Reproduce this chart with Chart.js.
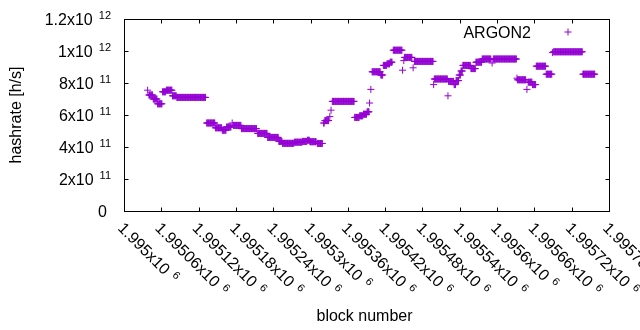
<!DOCTYPE html>
<html>
<head>
<meta charset="utf-8">
<script src="https://cdn.jsdelivr.net/npm/chart.js@4/dist/chart.umd.min.js"></script>
<style>
html,body{margin:0;padding:0;background:#fff;}
canvas{display:block;}
</style>
</head>
<body>
<canvas id="c" width="640" height="330"></canvas>
<script>
// ---- data (block offset from 1995000, run end, hashrate in units of 1e11) ----
const blockBase = 1995000;
const runStart = [38,40,47,54,62,68,78,85,133,147,158,165,174,176,189,215,231,249,255,274,287,295,299,311,321,323,331,333,335,371,379,385,391,395,397,399,413,417,423,428,433,448,450,451,465,467,498,499,521,522,531,534,539,542,545,558,566,576,592,594,632,633,648,650,657,663,679,689,691,738];
const runEnd   = [38,46,53,61,67,77,84,131,146,157,164,172,174,188,213,230,248,254,273,286,294,298,309,319,322,329,331,333,370,378,384,390,394,395,397,412,416,422,427,431,447,448,450,463,465,497,498,520,521,530,533,538,541,544,557,565,575,590,592,631,632,646,648,656,662,678,688,689,737,757];
const runValue = [7.55,7.25,7.0,6.7,7.45,7.55,7.2,7.1,5.5,5.2,5.05,5.25,5.5,5.35,5.15,4.85,4.6,4.35,4.23,4.3,4.35,4.42,4.33,4.22,5.5,5.65,5.9,6.3,6.85,5.85,5.95,6.05,6.2,6.75,7.6,8.7,8.5,9.1,9.2,9.3,10.05,8.8,9.4,9.6,8.95,9.35,7.9,8.25,7.2,8.1,7.9,8.15,8.5,8.75,9.1,8.9,9.3,9.5,9.25,9.5,8.3,8.2,7.6,8.05,7.9,9.05,8.55,9.9,9.95,8.55];
const valueUnit = 1e11;

const xTickValues = [1995000,1995060,1995120,1995180,1995240,1995300,1995360,1995420,1995480,1995540,1995600,1995660,1995720,1995780];
const xTickBase = ["1.995x10","1.99506x10","1.99512x10","1.99518x10","1.99524x10","1.9953x10","1.99536x10","1.99542x10","1.99548x10","1.99554x10","1.9956x10","1.99566x10","1.99572x10","1.99578x10"];
const xTickExp = ["6","6","6","6","6","6","6","6","6","6","6","6","6","6"];
const yTickValues = [0,2e11,4e11,6e11,8e11,1e12,1.2e12];
const yTickBase = ["0","2x10","4x10","6x10","8x10","1x10","1.2x10"];
const yTickExp = ["","11","11","11","11","12","12"];
const seriesName = "ARGON2";

// expand step runs to one point per block
const points = [];
for (let i = 0; i < runStart.length; i++) {
  for (let b = runStart[i]; b <= runEnd[i]; b++) {
    points.push({x: blockBase + b, y: runValue[i] * valueUnit});
  }
}

const COLOR = '#9400d3';
const FONT = '"Liberation Sans", Arial, sans-serif';
const MAIN = 16, SUP = 11;

function drawSup(ctx, base, exp, x, y) {
  ctx.font = MAIN + 'px ' + FONT;
  ctx.fillText(base, x, y);
  if (exp) {
    const w = ctx.measureText(base).width;
    ctx.font = SUP + 'px ' + FONT;
    ctx.fillText(exp, x + w + 6, y - 5.7);
  }
}
function supWidth(ctx, base, exp) {
  ctx.font = MAIN + 'px ' + FONT;
  let w = ctx.measureText(base).width;
  if (exp) { ctx.font = SUP + 'px ' + FONT; w += 6 + ctx.measureText(exp).width; }
  return w;
}
function cross(ctx, x, y, r) {
  ctx.beginPath();
  ctx.moveTo(x - r, y); ctx.lineTo(x + r, y);
  ctx.moveTo(x, y - r); ctx.lineTo(x, y + r);
  ctx.stroke();
}

const gnuplotFrame = {
  id: 'gnuplotFrame',
  afterDraw(chart) {
    const ctx = chart.ctx, a = chart.chartArea;
    const xs = chart.scales.x, ys = chart.scales.y;
    ctx.save();
    ctx.strokeStyle = '#000'; ctx.lineWidth = 1;
    const L = Math.round(a.left) + 0.5, R = Math.round(a.right) + 0.5;
    const T = Math.round(a.top) + 0.5, B = Math.round(a.bottom) + 0.5;
    ctx.strokeRect(L, T, R - L, B - T);
    const tl = 4;
    ctx.beginPath();
    xTickValues.forEach(v => {
      const px = Math.round(xs.getPixelForValue(v)) + 0.5;
      ctx.moveTo(px, B); ctx.lineTo(px, B - tl);
      ctx.moveTo(px, T); ctx.lineTo(px, T + tl);
    });
    yTickValues.forEach(v => {
      const py = Math.round(ys.getPixelForValue(v)) + 0.5;
      ctx.moveTo(L, py); ctx.lineTo(L + tl, py);
      ctx.moveTo(R, py); ctx.lineTo(R - tl, py);
    });
    ctx.stroke();

    ctx.fillStyle = '#000';
    ctx.textBaseline = 'alphabetic';
    ctx.textAlign = 'left';
    // y tick labels
    yTickValues.forEach((v, i) => {
      const py = ys.getPixelForValue(v);
      const w = supWidth(ctx, yTickBase[i], yTickExp[i]);
      const right = yTickExp[i] ? 111 : 107;
      drawSup(ctx, yTickBase[i], yTickExp[i], right - w, py + 5.5);
    });
    // x tick labels (rotated 45deg clockwise)
    xTickValues.forEach((v, i) => {
      const px = xs.getPixelForValue(v);
      ctx.save();
      ctx.translate(px - 7, a.bottom + 18);
      ctx.rotate(Math.PI / 4);
      drawSup(ctx, xTickBase[i], xTickExp[i], 0, 0);
      ctx.restore();
    });
    // axis titles
    ctx.font = MAIN + 'px ' + FONT;
    ctx.textAlign = 'center';
    ctx.fillText('block number', (a.left + a.right) / 2 - 2, 321);
    ctx.save();
    ctx.translate(17, (a.top + a.bottom) / 2);
    ctx.rotate(-Math.PI / 2);
    ctx.textBaseline = 'middle';
    ctx.fillText('hashrate [h/s]', 0, 0);
    ctx.restore();
    // key
    ctx.textAlign = 'right';
    ctx.textBaseline = 'alphabetic';
    ctx.fillText(seriesName, 531, 37.5);
    ctx.strokeStyle = COLOR; ctx.lineWidth = 1;
    cross(ctx, 568, 32, 3.5);
    ctx.restore();
  }
};

new Chart(document.getElementById('c'), {
  type: 'scatter',
  data: {
    datasets: [{
      label: seriesName,
      data: points,
      pointStyle: 'cross',
      pointRadius: 3.5,
      borderColor: COLOR,
      backgroundColor: COLOR,
      borderWidth: 1,
      showLine: false
    }]
  },
  options: {
    responsive: false,
    animation: false,
    events: [],
    layout: { padding: { left: 124, right: 31, top: 19, bottom: 119 } },
    plugins: { legend: { display: false }, tooltip: { enabled: false } },
    scales: {
      x: { type: 'linear', min: 1995000, max: 1995780, display: false },
      y: { type: 'linear', min: 0, max: 1.2e12, display: false }
    }
  },
  plugins: [gnuplotFrame]
});
</script>
</body>
</html>
